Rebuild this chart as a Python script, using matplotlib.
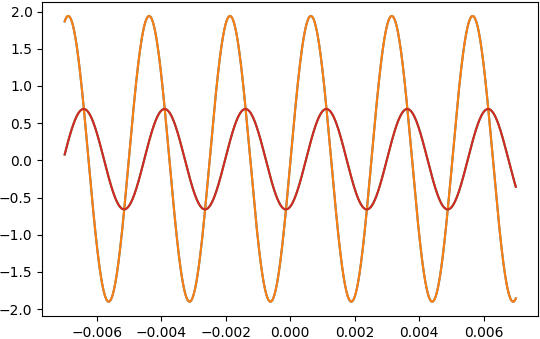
import numpy as np
import matplotlib
matplotlib.use('Agg')
import matplotlib.pyplot as plt

# sine parameters
x_start, x_end = -0.007, 0.007
period = 0.00251
big_amp, big_mid, big_peak = 1.92, 0.02, 0.00064
small_amp, small_mid, small_peak = 0.675, 0.015, 0.00112

t = np.linspace(x_start, x_end, 2000)
big = big_mid + big_amp * np.cos(2 * np.pi * (t - big_peak) / period)
small = small_mid + small_amp * np.cos(2 * np.pi * (t - small_peak) / period)

fig, ax = plt.subplots(figsize=(5.4, 3.39), dpi=100)
fig.subplots_adjust(left=0.078, right=0.997, top=0.995, bottom=0.068)

ax.plot(t, big, color='C0')
ax.plot(t, big, color='C1')
ax.plot(t, small, color='C2')
ax.plot(t, small, color='C3')

fig.savefig('out.png')
